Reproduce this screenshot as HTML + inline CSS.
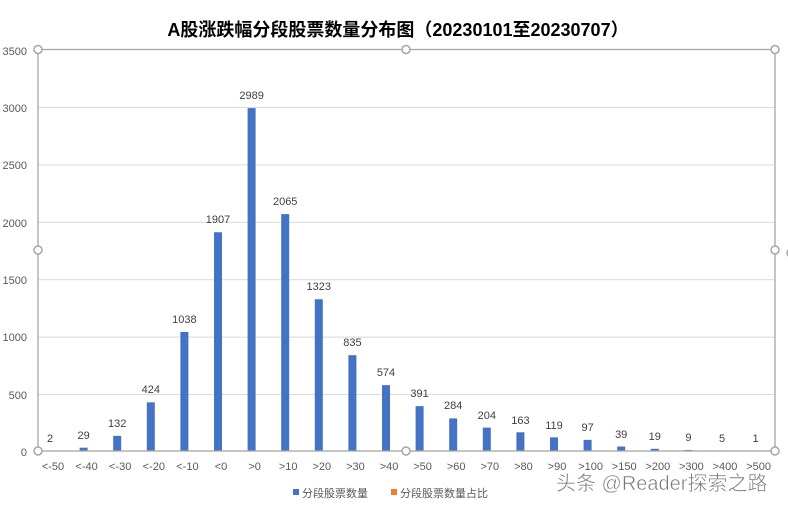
<!DOCTYPE html>
<html><head><meta charset="utf-8"><style>
body{margin:0;background:#fff;}
svg text{font-family:"Liberation Sans","Noto Sans CJK SC",sans-serif;}
</style></head><body>
<svg width="788" height="506" viewBox="0 0 788 506" xmlns="http://www.w3.org/2000/svg">
<rect width="788" height="506" fill="#fff"/>
<text x="398" y="36" text-anchor="middle" font-size="18" font-weight="bold" fill="#000">A股涨跌幅分段股票数量分布图（20230101至20230707）</text>
<g stroke="#d9d9d9" stroke-width="1">
<line x1="38" x2="775" y1="107.4" y2="107.4"/>
<line x1="38" x2="775" y1="164.9" y2="164.9"/>
<line x1="38" x2="775" y1="222.3" y2="222.3"/>
<line x1="38" x2="775" y1="279.7" y2="279.7"/>
<line x1="38" x2="775" y1="337.1" y2="337.1"/>
<line x1="38" x2="775" y1="394.6" y2="394.6"/>
</g>
<g font-size="11" fill="#595959" text-anchor="end">
<text x="27" y="55">3500</text><text x="27" y="112">3000</text><text x="27" y="169">2500</text>
<text x="27" y="227">2000</text><text x="27" y="284">1500</text><text x="27" y="341">1000</text>
<text x="27" y="399">500</text><text x="27" y="456">0</text>
</g>
<g fill="#4472c4">
<rect x="46" y="450.77" width="8" height="0.23"/>
<rect x="79.6" y="447.67" width="8" height="3.33"/>
<rect x="113.2" y="435.86" width="8" height="15.14"/>
<rect x="146.8" y="402.36" width="8" height="48.64"/>
<rect x="180.4" y="331.93" width="8" height="119.07"/>
<rect x="214" y="232.24" width="8" height="218.76"/>
<rect x="247.6" y="108.12" width="8" height="342.88"/>
<rect x="281.2" y="214.12" width="8" height="236.88"/>
<rect x="314.8" y="299.23" width="8" height="151.77"/>
<rect x="348.4" y="355.21" width="8" height="95.79"/>
<rect x="382" y="385.15" width="8" height="65.85"/>
<rect x="415.6" y="406.15" width="8" height="44.85"/>
<rect x="449.2" y="418.42" width="8" height="32.58"/>
<rect x="482.8" y="427.6" width="8" height="23.4"/>
<rect x="516.4" y="432.3" width="8" height="18.7"/>
<rect x="550" y="437.35" width="8" height="13.65"/>
<rect x="583.6" y="439.87" width="8" height="11.13"/>
<rect x="617.2" y="446.53" width="8" height="4.47"/>
<rect x="650.8" y="448.82" width="8" height="2.18"/>
<rect x="684.4" y="449.97" width="8" height="1.03"/>
<rect x="718" y="450.43" width="8" height="0.57"/>
<rect x="751.6" y="450.89" width="8" height="0.11"/>
</g>
<g font-size="11" fill="#404040" text-anchor="middle">
<text x="50" y="442">2</text>
<text x="83.6" y="439">29</text>
<text x="117.2" y="427">132</text>
<text x="150.8" y="393">424</text>
<text x="184.4" y="323">1038</text>
<text x="218" y="223">1907</text>
<text x="251.6" y="99">2989</text>
<text x="285.2" y="205">2065</text>
<text x="318.8" y="290">1323</text>
<text x="352.4" y="346">835</text>
<text x="386" y="376">574</text>
<text x="419.6" y="397">391</text>
<text x="453.2" y="409">284</text>
<text x="486.8" y="419">204</text>
<text x="520.4" y="424">163</text>
<text x="554" y="429">119</text>
<text x="587.6" y="431">97</text>
<text x="621.2" y="438">39</text>
<text x="654.8" y="440">19</text>
<text x="688.4" y="441">9</text>
<text x="722" y="442">5</text>
<text x="755.6" y="442">1</text>
</g>
<g font-size="11" fill="#595959" text-anchor="middle">
<text x="53" y="470">&lt;-50</text>
<text x="86.6" y="470">&lt;-40</text>
<text x="120.2" y="470">&lt;-30</text>
<text x="153.8" y="470">&lt;-20</text>
<text x="187.4" y="470">&lt;-10</text>
<text x="221" y="470">&lt;0</text>
<text x="254.6" y="470">&gt;0</text>
<text x="288.2" y="470">&gt;10</text>
<text x="321.8" y="470">&gt;20</text>
<text x="355.4" y="470">&gt;30</text>
<text x="389" y="470">&gt;40</text>
<text x="422.6" y="470">&gt;50</text>
<text x="456.2" y="470">&gt;60</text>
<text x="489.8" y="470">&gt;70</text>
<text x="523.4" y="470">&gt;80</text>
<text x="557" y="470">&gt;90</text>
<text x="590.6" y="470">&gt;100</text>
<text x="624.2" y="470">&gt;150</text>
<text x="657.8" y="470">&gt;200</text>
<text x="691.4" y="470">&gt;300</text>
<text x="725" y="470">&gt;400</text>
<text x="758.6" y="470">&gt;500</text>
</g>
<rect x="38" y="49.5" width="737" height="401.5" fill="none" stroke="#a6a6a6" stroke-width="1.3"/>
<g fill="#fff" stroke="#a6a6a6" stroke-width="1.5">
<circle cx="38" cy="49.5" r="4"/><circle cx="406" cy="49.5" r="4"/><circle cx="775" cy="49.5" r="4"/>
<circle cx="38" cy="250" r="4"/><circle cx="775" cy="250" r="4"/>
<circle cx="38" cy="451" r="4"/><circle cx="406" cy="451" r="4"/><circle cx="775" cy="451" r="4"/>
<circle cx="791" cy="253" r="4"/>
</g>
<rect x="293" y="489" width="6" height="6" fill="#4472c4"/>
<text x="302" y="497" font-size="11" fill="#595959">分段股票数量</text>
<rect x="391" y="489" width="6" height="6" fill="#ed7d31"/>
<text x="400" y="497" font-size="11" fill="#595959">分段股票数量占比</text>
<text x="556" y="490" font-size="20" fill="#777" stroke="#fff" stroke-width="0.5">头条 @Reader探索之路</text>
</svg>
</body></html>
